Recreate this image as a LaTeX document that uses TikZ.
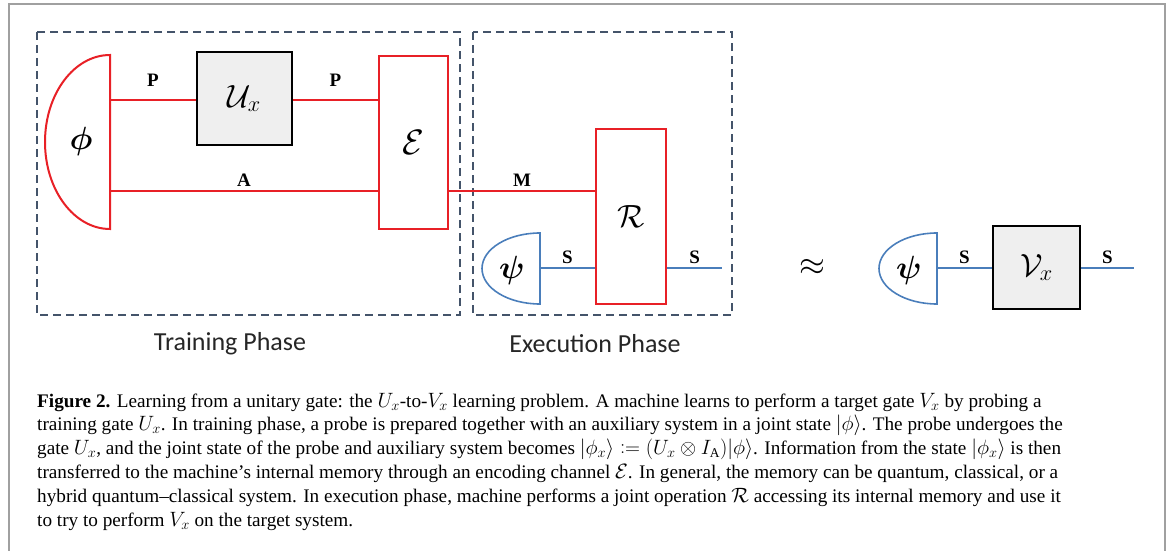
\documentclass[tikz,border=0pt]{standalone}
\usepackage{graphicx}
\usepackage{amsmath,amssymb,bm}
\usepackage{fontspec}
\setmainfont{Liberation Serif}
\newfontfamily\calfont{Carlito}
\newcommand\bigsym[2]{\scalebox{#1}{\fontsize{20}{20}\selectfont$#2$}}
\definecolor{qred}{RGB}{232,32,38}
\definecolor{qblue}{RGB}{74,126,187}
\definecolor{dashc}{RGB}{68,84,106}
\definecolor{gatefill}{RGB}{239,239,239}
\definecolor{framec}{RGB}{160,160,160}
\tikzset{
  redwire/.style={draw=qred, line width=1.8pt},
  bluewire/.style={draw=qblue, line width=1.6pt},
  redbox/.style={draw=qred, line width=2.2pt, fill=white, inner sep=0pt},
  graybox/.style={draw=black, line width=2pt, fill=gatefill, inner sep=0pt},
  phasebox/.style={draw=dashc, line width=1.6pt, dash pattern=on 8pt off 5pt},
  wlab/.style={font=\fontsize{19}{21}\selectfont\bfseries, inner sep=1pt, above=3pt},
  plab/.style={wlab, above=9pt},
  phaselab/.style={font=\calfont\fontsize{26}{30}\selectfont, text=black!85},
  capline/.style={anchor=base west, inner sep=0pt, font=\fontsize{19.2}{23}\selectfont},
  sym/.style={inner sep=0pt}
}
\begin{document}
\begin{tikzpicture}[x=1pt,y=-1pt]
\useasboundingbox (0,0) rectangle (1171,551);
% outer frame
\draw[framec, line width=1.6pt] (9,551) -- (9,4) -- (1165,4) -- (1165,551);
% phase boxes
\draw[phasebox] (37,32) rectangle (460,315);
\draw[phasebox] (473,32) rectangle (732,315);
\node[phaselab] (trainlab) at (230,344) {Training Phase};
\node[phaselab] (execlab) at (595,344) {Execution Phase};
% phi state
\draw[qred, line width=2pt, fill=white] (110,55) arc[start angle=90, end angle=270, x radius=65pt, y radius=87pt] -- cycle;
\node[sym] (phi) at (81,141) {\bigsym{1.55}{\bm{\phi}}};
\coordinate (phiP) at (110,100);
\coordinate (phiA) at (110,191);
% gates
\node[graybox, minimum width=95pt, minimum height=93pt] (Ux) at (244.5,98.5) {\bigsym{1.55}{\mathcal{U}_x}};
\node[redbox, minimum width=69pt, minimum height=173pt] (E) at (413.5,142.5) {\bigsym{1.7}{\mathcal{E}}};
\node[redbox, minimum width=70pt, minimum height=175pt] (R) at (631,216.5) {\bigsym{1.55}{\mathcal{R}}};
% psi state (execution)
\draw[qblue, line width=1.6pt, fill=white] (540,233) arc[start angle=90, end angle=270, x radius=58pt, y radius=35.5pt] -- cycle;
\node[sym] (psi1) at (512,270) {\bigsym{1.55}{\bm{\psi}}};
\coordinate (psi1S) at (540,268);
\coordinate (out1) at (722,268);
% wires training
\draw[redwire] (phiP) -- (phiP -| Ux.west) node[midway, plab] {P};
\draw[redwire] (Ux.east |- phiP) -- (phiP -| E.west) node[midway, plab] {P};
\draw[redwire] (phiA) -- (phiA -| E.west) node[midway, wlab] {A};
\draw[redwire] (E.east |- phiA) -- (phiA -| R.west) node[midway, wlab] {M};
% wires execution
\draw[bluewire] (psi1S) -- (psi1S -| R.west) node[midway, wlab] {S};
\draw[bluewire] (R.east |- out1) -- (out1) node[midway, wlab] {S};
% approx
\node[sym] (approx) at (812,267) {\bigsym{1.6}{\approx}};
% right side
\draw[qblue, line width=1.6pt, fill=white] (937,233) arc[start angle=90, end angle=270, x radius=58pt, y radius=35.5pt] -- cycle;
\node[sym] (psi2) at (909,270) {\bigsym{1.55}{\bm{\psi}}};
\coordinate (psi2S) at (937,268);
\node[graybox, minimum width=87pt, minimum height=83pt] (Vx) at (1036.5,267.5) {\bigsym{1.55}{\mathcal{V}_x}};
\coordinate (out2) at (1134,268);
\draw[bluewire] (psi2S) -- (psi2S -| Vx.west) node[midway, wlab] {S};
\draw[bluewire] (Vx.east |- out2) -- (out2) node[midway, wlab] {S};
% caption
\node[capline] (c1) at (37,407) {\textbf{Figure 2.} Learning from a unitary gate: the $U_x$-to-$V_x$ learning problem. A machine learns to perform a target gate $V_x$ by probing a};
\node[capline] (c2) at (37,430.8) {training gate $U_x$. In training phase, a probe is prepared together with an auxiliary system in a joint state $|\phi\rangle$. The probe undergoes the};
\node[capline] (c3) at (37,454.6) {gate $U_x$, and the joint state of the probe and auxiliary system becomes $|\phi_x\rangle \mathrel{\mathop:}= (U_x \otimes I_{\mathrm{A}})|\phi\rangle$. Information from the state $|\phi_x\rangle$ is then};
\node[capline] (c4) at (37,478.4) {transferred to the machine's internal memory through an encoding channel $\mathcal{E}$. In general, the memory can be quantum, classical, or a};
\node[capline] (c5) at (37,502.2) {hybrid quantum--classical system. In execution phase, machine performs a joint operation $\mathcal{R}$ accessing its internal memory and use it};
\node[capline] (c6) at (37,526) {to try to perform $V_x$ on the target system.};
\end{tikzpicture}
\end{document}
